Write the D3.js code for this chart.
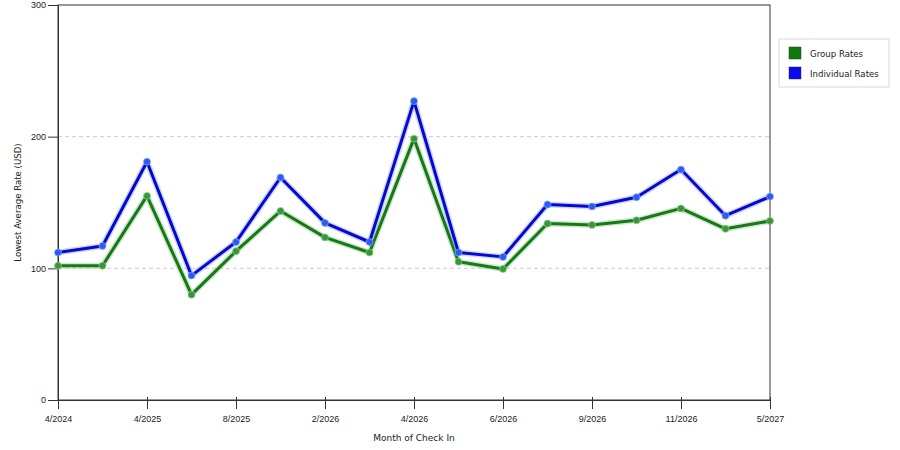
<!DOCTYPE html>
<html>
<head>
<meta charset="utf-8">
<script src="https://cdn.jsdelivr.net/npm/d3@7"></script>
<style>
  body { margin: 0; background: #fff; }
  svg { display: block; font-family: "DejaVu Sans", Verdana, sans-serif; }
</style>
</head>
<body>
<svg id="chart" width="900" height="450"></svg>
<script>
// one entry per month of check-in; only every other month gets a label
const months = ["4/2024", "", "4/2025", "", "8/2025", "", "2/2026", "", "4/2026",
                "", "6/2026", "", "9/2026", "", "11/2026", "", "5/2027"];
const groupRates = [102, 102, 155, 80, 113, 143.5, 123.5, 112, 198.5,
                    105, 99.5, 134, 133, 136.5, 145.5, 130, 136];
const individualRates = [112, 117, 181, 94.5, 120, 169, 134.5, 120, 227,
                         112, 108.7, 148.5, 147, 154, 175, 140, 154.5];
const yTicks = [0, 100, 200, 300];

const series = [
  {name: "Group Rates", values: groupRates, color: "#187818", fill: "#3a963a", halo: "#8fcf8f", swatch: "#0e7a0e"},
  {name: "Individual Rates", values: individualRates, color: "#0808cc", fill: "#2a5cf0", halo: "#8fa8ff", swatch: "#0a0af0"}
];

const margin = {top: 5, right: 130, bottom: 50, left: 58};
const width = 900, height = 450;

const svg = d3.select("#chart");

const x = d3.scalePoint()
    .domain(d3.range(months.length))
    .range([margin.left, width - margin.right]);

const y = d3.scaleLinear()
    .domain([0, 300])
    .range([height - margin.bottom, margin.top]);

// dashed gridlines
svg.append("g")
  .selectAll("line")
  .data(yTicks.filter(d => d > 0 && d < 300))
  .join("line")
    .attr("x1", margin.left)
    .attr("x2", width - margin.right)
    .attr("y1", d => y(d))
    .attr("y2", d => y(d))
    .attr("stroke", "#cccccc")
    .attr("stroke-dasharray", "4,3");

// frame
svg.append("rect")
    .attr("x", margin.left)
    .attr("y", margin.top)
    .attr("width", width - margin.right - margin.left)
    .attr("height", height - margin.bottom - margin.top)
    .attr("fill", "none")
    .attr("stroke", "#333");

const xAxis = g => g
  .attr("transform", `translate(0,${height - margin.bottom})`)
  .call(d3.axisBottom(x)
      .tickValues(d3.range(0, months.length, 2))
      .tickFormat(i => months[i])
      .tickSize(9)
      .tickSizeOuter(0))
  .call(g => g.select(".domain").attr("stroke", "#333"))
  .call(g => g.selectAll(".tick line").attr("stroke", "#333").attr("y1", -3))
  .call(g => g.selectAll(".tick text")
      .attr("font-size", 9).attr("fill", "#222").attr("dy", "1.4em").attr("y", 9));

const yAxis = g => g
  .attr("transform", `translate(${margin.left},0)`)
  .call(d3.axisLeft(y).tickValues(yTicks).tickSize(10).tickSizeOuter(0))
  .call(g => g.select(".domain").attr("stroke", "#333"))
  .call(g => g.selectAll(".tick line").attr("stroke", "#333"))
  .call(g => g.selectAll(".tick text")
      .attr("font-size", 9).attr("fill", "#222").attr("x", -12));

svg.append("g").call(xAxis);
svg.append("g").call(yAxis);

// axis titles
svg.append("text")
    .attr("x", 414)
    .attr("y", 441)
    .attr("text-anchor", "middle")
    .attr("font-size", 9)
    .attr("fill", "#222")
    .text("Month of Check In");

svg.append("text")
    .attr("transform", `translate(21,${(margin.top + height - margin.bottom) / 2}) rotate(-90)`)
    .attr("text-anchor", "middle")
    .attr("font-size", 8.6)
    .attr("fill", "#222")
    .text("Lowest Average Rate (USD)");

const line = d3.line()
    .x((d, i) => x(i))
    .y(d => y(d));

const lines = svg.append("g")
  .selectAll("g")
  .data(series)
  .join("g");

lines.append("path")
    .attr("d", d => line(d.values))
    .attr("fill", "none")
    .attr("stroke", d => d.halo)
    .attr("stroke-opacity", 0.45)
    .attr("stroke-width", 6)
    .attr("stroke-linejoin", "round");

lines.append("path")
    .attr("d", d => line(d.values))
    .attr("fill", "none")
    .attr("stroke", d => d.color)
    .attr("stroke-width", 3)
    .attr("stroke-linejoin", "round");

lines.selectAll("circle")
  .data(d => d.values.map((v, i) => ({v, i, s: d})))
  .join("circle")
    .attr("cx", d => x(d.i))
    .attr("cy", d => y(d.v))
    .attr("r", 3.5)
    .attr("fill", d => d.s.fill)
    .attr("stroke", d => d.s.halo)
    .attr("stroke-opacity", 0.7)
    .attr("stroke-width", 1);

// legend
const legend = svg.append("g").attr("transform", "translate(779,39)");
legend.append("rect")
    .attr("width", 110)
    .attr("height", 48)
    .attr("fill", "#fff")
    .attr("stroke", "#d8d8d8");

const item = legend.selectAll("g.item")
  .data(series)
  .join("g")
    .attr("class", "item")
    .attr("transform", (d, i) => `translate(10,${8 + i * 20})`);

item.append("rect")
    .attr("width", 12)
    .attr("height", 12)
    .attr("fill", d => d.swatch)
    .attr("stroke", "#333")
    .attr("stroke-width", 0.5);

item.append("text")
    .attr("x", 21)
    .attr("y", 9.5)
    .attr("font-size", 8.6)
    .attr("fill", "#222")
    .text(d => d.name);
</script>
</body>
</html>
